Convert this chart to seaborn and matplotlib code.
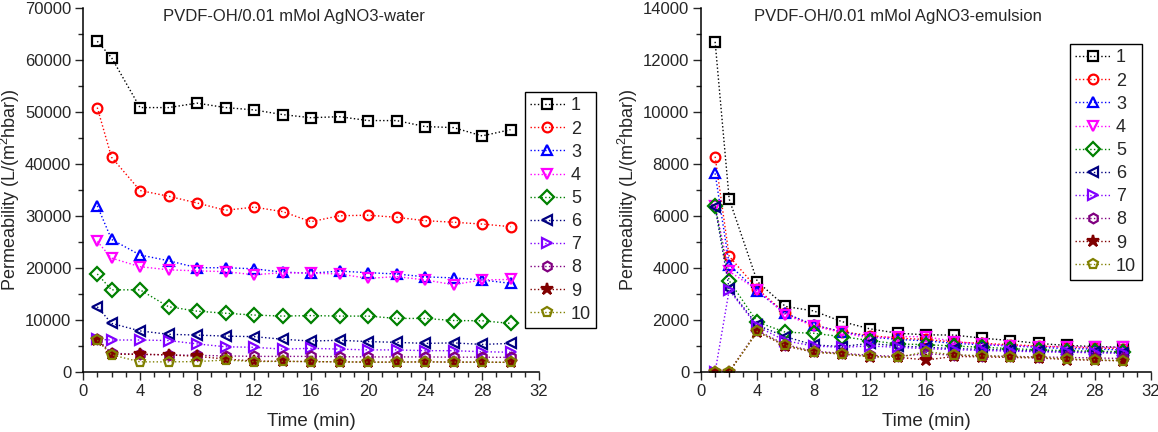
import matplotlib
matplotlib.use("Agg")
import matplotlib.pyplot as plt
from matplotlib.ticker import MultipleLocator
import seaborn as sns
import pandas as pd

# ==============================
# Data
# ==============================
time_min = [1, 2, 4, 6, 8, 10, 12, 14, 16, 18, 20, 22, 24, 26, 28, 30]
run_labels = ["1", "2", "3", "4", "5", "6", "7", "8", "9", "10"]

water_1 = [63600, 60450, 50850, 50850, 51700, 50850, 50400, 49500, 48900, 49100, 48350, 48350, 47200, 47000, 45400, 46600]
water_2 = [50850, 41300, 34900, 33800, 32500, 31100, 31700, 30850, 28900, 30050, 30150, 29750, 29100, 28800, 28450, 27950]
water_3 = [31950, 25500, 22500, 21400, 20050, 20050, 19850, 19200, 19000, 19400, 19100, 18850, 18300, 18100, 17700, 17050]
water_4 = [25100, 21900, 20250, 19650, 19450, 19300, 18700, 19100, 19000, 18850, 18000, 18350, 17700, 16800, 17700, 17800]
water_5 = [18850, 15800, 15800, 12550, 11700, 11300, 10950, 10750, 10850, 10750, 10750, 10300, 10300, 9900, 9850, 9350]
water_6 = [12550, 9350, 7900, 7250, 7100, 6900, 6800, 6300, 5950, 6100, 5850, 5700, 5500, 5600, 5300, 5500]
water_7 = [6300, 6150, 6150, 6050, 5400, 4850, 4750, 4400, 4550, 4400, 4250, 4250, 4100, 4100, 3900, 3800]
water_8 = [6400, 3600, 3400, 3300, 3200, 3100, 3000, 3000, 3000, 2950, 2900, 2900, 2900, 2850, 2850, 2800]
water_9 = [6200, 3400, 3400, 3300, 3000, 2500, 2100, 2050, 2000, 1950, 1900, 1900, 1950, 1900, 1900, 1850]
water_10 = [6100, 3300, 1950, 1950, 2000, 2300, 2000, 2050, 2000, 1950, 1900, 1900, 1950, 1900, 1900, 1850]

emul_1 = [12700, 6650, 3480, 2520, 2350, 1940, 1660, 1490, 1430, 1420, 1300, 1210, 1100, 1020, 980, 950]
emul_2 = [8280, 4450, 3200, 2250, 1800, 1550, 1400, 1300, 1250, 1150, 1100, 1050, 1000, 950, 920, 900]
emul_3 = [7640, 4130, 3100, 2260, 1810, 1550, 1350, 1250, 1200, 1100, 1050, 1000, 950, 900, 880, 850]
emul_4 = [6370, 3870, 3160, 2200, 1770, 1520, 1300, 1360, 1360, 1170, 1080, 1015, 980, 980, 950, 950]
emul_5 = [6400, 3510, 1920, 1530, 1490, 1360, 1210, 1080, 1050, 1000, 950, 900, 850, 820, 800, 780]
emul_6 = [6350, 3200, 1800, 1360, 1040, 980, 1100, 1000, 950, 900, 870, 840, 800, 780, 760, 740]
emul_7 = [0, 3150, 1750, 1200, 1000, 950, 1000, 950, 900, 860, 830, 800, 780, 760, 740, 720]
emul_8 = [0, 0, 1600, 1050, 800, 720, 640, 600, 700, 650, 620, 600, 580, 560, 540, 520]
emul_9 = [0, 0, 1550, 1000, 760, 690, 590, 570, 460, 600, 580, 560, 540, 480, 450, 430]
emul_10 = [0, 0, 1560, 1020, 770, 700, 600, 560, 780, 660, 620, 590, 565, 500, 470, 440]

water_runs = [water_1, water_2, water_3, water_4, water_5, water_6, water_7, water_8, water_9, water_10]
emul_runs = [emul_1, emul_2, emul_3, emul_4, emul_5, emul_6, emul_7, emul_8, emul_9, emul_10]

# Origin-like palette / symbols
colors = ["#000000", "#FF0000", "#0000FF", "#FF00FF", "#008000",
          "#000080", "#8000FF", "#800080", "#800000", "#808000"]
markers = ["s", "o", "^", "v", "D", "<", ">", "h", "*", "p"]

# ==============================
# Style
# ==============================
sns.set_style("ticks")
plt.rcParams["font.family"] = ["Liberation Sans", "DejaVu Sans"]
plt.rcParams["mathtext.fontset"] = "custom"
plt.rcParams["mathtext.rm"] = "Liberation Sans"
plt.rcParams["mathtext.it"] = "Liberation Sans"

fig = plt.figure(figsize=(11.58, 4.32), dpi=100)
ax_w = fig.add_axes([0.0717, 0.1389, 0.3938, 0.8426])
ax_e = fig.add_axes([0.6054, 0.1389, 0.3886, 0.8426])


def draw_panel(ax, runs, ymax, ymajor, title, title_x, leg_anchor, ylab_x):
    for lab, vals, c, m in zip(run_labels, runs, colors, markers):
        df = pd.DataFrame({"t": time_min, "p": vals})
        face = c if m == "*" else "none"
        size = 9 if m == "*" else 7
        sns.lineplot(data=df, x="t", y="p", ax=ax, color=c, marker=m,
                     markersize=size, markerfacecolor=face, markeredgecolor=c,
                     markeredgewidth=1.6, linestyle=":", linewidth=1.0,
                     label=lab, errorbar=None, sort=False)

    ax.set_xlim(0, 32)
    ax.set_ylim(0, ymax)
    ax.xaxis.set_major_locator(MultipleLocator(4))
    ax.xaxis.set_minor_locator(MultipleLocator(1))
    ax.yaxis.set_major_locator(MultipleLocator(ymajor))
    ax.yaxis.set_minor_locator(MultipleLocator(ymajor / 2))
    ax.tick_params(which="major", direction="out", length=6, width=1.0,
                   labelsize=12, pad=2.5)
    ax.tick_params(which="minor", direction="out", length=3.5, width=1.0)
    for side in ["top", "right"]:
        ax.spines[side].set_visible(False)
    for side in ["left", "bottom"]:
        ax.spines[side].set_linewidth(1.1)
        ax.spines[side].set_color("black")

    ax.set_xlabel("Time (min)", fontsize=13.5)
    ax.xaxis.set_label_coords(0.5, -0.113)
    ax.set_ylabel("Permeability (L/(m$^2$hbar))", fontsize=13)
    ax.yaxis.set_label_coords(ylab_x, 0.5)
    ax.text(title_x, 0.978, title, transform=ax.transAxes, ha="center",
            va="center", fontsize=12)

    leg = ax.legend(loc="upper left", bbox_to_anchor=leg_anchor, fontsize=13,
                    frameon=True, fancybox=False, edgecolor="black",
                    framealpha=1, handlelength=1.9, handletextpad=0.35,
                    labelspacing=0.34, borderpad=0.3, borderaxespad=0)
    leg.get_frame().set_linewidth(1.0)


draw_panel(ax_w, water_runs, 70000, 10000,
           "PVDF-OH/0.01 mMol AgNO3-water", 0.463, (0.969, 0.769), -0.134)
draw_panel(ax_e, emul_runs, 14000, 2000,
           "PVDF-OH/0.01 mMol AgNO3-emulsion", 0.438, (0.82, 0.901), -0.136)

fig.savefig("out.png", dpi=100)
